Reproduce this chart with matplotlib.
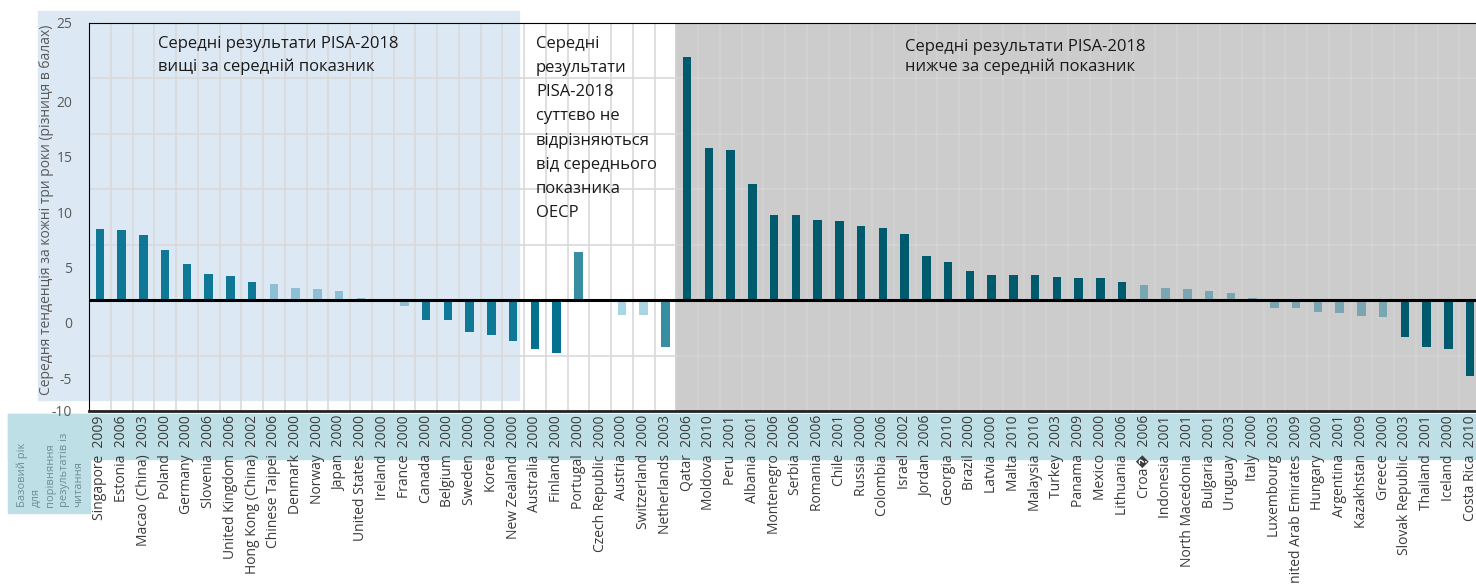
import matplotlib
matplotlib.use("Agg")
import matplotlib.pyplot as plt
from matplotlib.patches import Rectangle
import numpy as np

plt.rcParams['font.family'] = ['Open Sans', 'DejaVu Sans']

# Data: countries, base year, average three-year trend, significance shade
countries = ["Singapore", "Estonia", "Macao (China)", "Poland", "Germany", "Slovenia",
             "United Kingdom", "Hong Kong (China)", "Chinese Taipei", "Denmark", "Norway",
             "Japan", "United States", "Ireland", "France", "Canada", "Belgium", "Sweden",
             "Korea", "New Zealand",
             "Australia", "Finland", "Portugal", "Czech Republic", "Austria", "Switzerland",
             "Netherlands",
             "Qatar", "Moldova", "Peru", "Albania", "Montenegro", "Serbia", "Romania", "Chile",
             "Russia", "Colombia", "Israel", "Jordan", "Georgia", "Brazil", "Latvia", "Malta",
             "Malaysia", "Turkey", "Panama", "Mexico", "Lithuania", "Croa\ufffd", "Indonesia",
             "North Macedonia", "Bulgaria", "Uruguay", "Italy", "Luxembourg",
             "United Arab Emirates", "Hungary", "Argentina", "Kazakhstan", "Greece",
             "Slovak Republic", "Thailand", "Iceland", "Costa Rica"]
base_years = [2009, 2006, 2003, 2000, 2000, 2006, 2006, 2002, 2006, 2000, 2000, 2000, 2000,
              2000, 2000, 2000, 2000, 2000, 2000, 2000,
              2000, 2000, 2000, 2000, 2000, 2000, 2003,
              2006, 2010, 2001, 2001, 2006, 2006, 2006, 2001, 2000, 2006, 2002, 2006, 2010,
              2000, 2000, 2010, 2010, 2003, 2009, 2000, 2006, 2006, 2001, 2001, 2001, 2003,
              2000, 2003, 2009, 2000, 2001, 2009, 2000, 2003, 2001, 2000, 2010]
trend_above = [6.4, 6.3, 5.9, 4.5, 3.3, 2.4, 2.2, 1.6, 1.5, 1.1, 1.0, 0.8, 0.2, -0.2, -0.5,
               -1.8, -1.8, -2.9, -3.1, -3.7]
trend_similar = [-4.4, -4.8, 4.3, 0.0, -1.3, -1.3, -4.2]
trend_below = [21.9, 13.7, 13.5, 10.5, 7.7, 7.7, 7.2, 7.1, 6.7, 6.5, 6.0, 4.0, 3.4, 2.6, 2.3,
               2.3, 2.3, 2.1, 2.0, 2.0, 1.6, 1.4, 1.1, 1.0, 0.8, 0.6, 0.2, -0.7, -0.7, -1.1,
               -1.2, -1.4, -1.5, -3.3, -4.2, -4.4, -6.8]
# d = significant, l = not significant, m = medium shade
sig_above = list("ddddddddlllllllddddd")
sig_similar = ["d", "d", "m", "l", "l", "l", "m"]
sig_below = list("d" * 21 + "l" * 12 + "d" * 4)

values = trend_above + trend_similar + trend_below
n_above, n_similar = len(trend_above), len(trend_similar)
groups = ["above"] * n_above + ["similar"] * n_similar + ["below"] * len(trend_below)
sigs = sig_above + sig_similar + sig_below

palette = {
    "above": {"d": "#0e7896", "l": "#8dc0d4", "m": "#378ea3"},
    "similar": {"d": "#04728f", "l": "#a8d6e2", "m": "#378ea3"},
    "below": {"d": "#005a6e", "l": "#7aa6b2", "m": "#2f7f90"},
}
colors = [palette[g][s] for g, s in zip(groups, sigs)]

W, H = 1476, 585
fig = plt.figure(figsize=(W / 100, H / 100), dpi=100)

def fx(px):
    return px / W

def fy(py):
    return 1 - py / H

# background panels at figure level
fig.patches.append(Rectangle((fx(38), fy(400)), fx(519) - fx(38), fy(11) - fy(400),
                             transform=fig.transFigure, color="#dce9f4", zorder=-2))
fig.patches.append(Rectangle((fx(8), fy(459)), fx(W) - fx(8), fy(414) - fy(459),
                             transform=fig.transFigure, color="#bfdfe6", zorder=-2))
fig.patches.append(Rectangle((fx(8), fy(513)), fx(90) - fx(8), fy(414) - fy(513),
                             transform=fig.transFigure, color="#bfdfe6", zorder=-2))

ax = fig.add_axes([fx(89), fy(411), 1392 / W, fy(23) - fy(411)])
ax.set_facecolor("none")

x = np.arange(len(values))
ax.set_xlim(-0.5, len(values) - 0.5)
ax.set_ylim(-10, 25)

# gray panel for the "below average" group
gray_start = n_above + n_similar - 0.5
ax.axvspan(gray_start, len(values) - 0.5, color="#cccccc", zorder=0, lw=0)

# grid
minor_x = np.arange(-0.5, len(values), 1.0)
minor_y = np.arange(-10, 26, 5)
ax.set_xticks(minor_x, minor=True)
ax.set_yticks(minor_y, minor=True)
ax.grid(which="minor", color="#d9d9d9", lw=1.2, zorder=0.5)
gx = minor_x[minor_x >= gray_start]
ax.vlines(gx, -10, 25, color="#a8a8a8", lw=1.2, zorder=0.6)
ax.hlines(minor_y, gray_start, len(values) - 0.5, color="#a8a8a8", lw=1.2, zorder=0.6)

ax.bar(x, values, width=0.4, color=colors, zorder=2)
ax.axhline(0, color="black", lw=2.2, zorder=3)

# y tick labels (as placed in the source chart)
ylab_pos = [25, 17.95, 12.95, 7.95, 2.95, -2.05, -7.05, -10]
ylab_txt = ["25", "20", "15", "10", "5", "0", "-5", "-10"]
ax.set_yticks(ylab_pos)
ax.set_yticklabels(ylab_txt)
ax.tick_params(axis="y", which="major", length=0, pad=12, labelsize=10, labelcolor="#595959")
ax.tick_params(which="minor", length=0)

labels = [f"{c}  {y}" for c, y in zip(countries, base_years)]
ax.set_xticks(x)
ax.set_xticklabels(labels, rotation=90, va="top", ha="center")
ax.tick_params(axis="x", which="major", length=0, pad=3, labelsize=10, labelcolor="#3a3a3a")

ax.spines["right"].set_visible(False)
ax.spines["top"].set_color("black")
ax.spines["left"].set_color("black")
ax.spines["bottom"].set_color("#222222")
ax.spines["bottom"].set_linewidth(2)
for s in ["top", "left", "bottom"]:
    ax.spines[s].set_zorder(4)

fig.text(fx(47), fy(210), "Середня тенденція за кожні три роки (різниця в балах)",
         rotation=90, ha="center", va="center", fontsize=10, color="#595959")

fig.text(fx(158), fy(36), "Середні результати PISA-2018\nвищі за середній показник",
         ha="left", va="top", fontsize=12, color="#1a1a1a", linespacing=1.5)
fig.text(fx(536), fy(36), "Середні\nрезультати\nPISA-2018\nсуттєво не\nвідрізняються\n"
         "від середнього\nпоказника\nОЕСР",
         ha="left", va="top", fontsize=12, color="#1a1a1a", linespacing=1.68)
fig.text(fx(905), fy(39), "Середні результати PISA-2018\nнижче за середній показник",
         ha="left", va="top", fontsize=12, color="#1a1a1a", linespacing=1.25)

fig.text(fx(16), fy(507), "Базовий рік\nдля\nпорівняння\nрезультатів із\nчитання",
         rotation=90, ha="left", va="bottom", multialignment="left",
         fontsize=8, color="#6f8d95", linespacing=1.4)

fig.savefig("out.png", dpi=100)
